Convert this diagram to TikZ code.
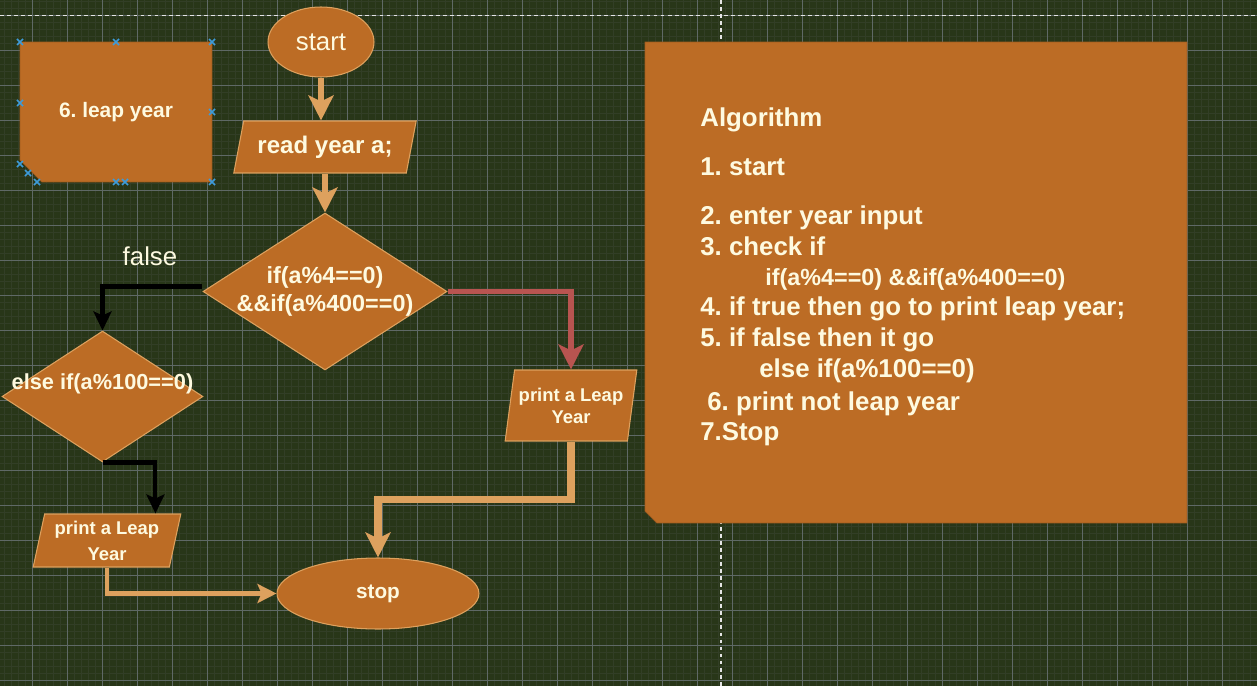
\documentclass[tikz,border=0pt]{standalone}
\usepackage{fontspec}
\setmainfont{Liberation Sans}
\usepackage{xcolor}
\usepackage{tikz}
\usetikzlibrary{positioning, shapes.geometric, shapes.misc, arrows.meta}
\frenchspacing

\definecolor{moss}{HTML}{283618}
\definecolor{rust}{HTML}{BC6C25}
\definecolor{sand}{HTML}{DDA15E}
\definecolor{cream}{HTML}{FEFAE0}
\definecolor{brick}{HTML}{B85450}
\definecolor{gridminor}{HTML}{323E26}
\definecolor{gridmajor}{HTML}{5F6966}
\definecolor{handle}{HTML}{3D9BD9}

\begin{document}
\begin{tikzpicture}[x=0.02cm, y=-0.02cm,
  minorline/.style={gridminor, line width=0.5pt},
  majorline/.style={gridmajor, line width=0.55pt},
  pageline/.style={draw=white!80!gray, line width=0.7pt, dash pattern=on 2.2pt off 1.8pt},
  box/.style={draw=sand, line width=0.6pt, fill=rust, text=cream, font=\bfseries},
  terminal/.style={box, ellipse, inner sep=0pt},
  io/.style={box, trapezium, trapezium stretches=true, inner sep=1pt},
  decision/.style={box, diamond, inner sep=0pt},
  lbl/.style={text=cream, align=center, inner sep=0pt},
  card/.style={chamfered rectangle, chamfered rectangle corners=south west,
    chamfered rectangle xsep=0.38cm, fill=rust, draw=rust!85!black, line width=0.4pt,
    text=cream, font=\bfseries},
  algoline/.style={text=cream, inner sep=0pt, anchor=base west},
  flow/.style={draw=sand, line width=3.4pt, -{Stealth[length=0.5cm, width=0.5cm, inset=0.12cm]}},
  thinflow/.style={draw=sand, line width=2.8pt, -{Stealth[length=0.38cm, width=0.38cm, inset=0.08cm]}},
  yesflow/.style={draw=brick, line width=3.4pt, -{Stealth[length=0.5cm, width=0.5cm, inset=0.12cm]}},
  noflow/.style={draw=black, line width=2.3pt, -{Stealth[length=0.38cm, width=0.36cm, inset=0.08cm]}},
  handlemark/.style={handle, line width=0.9pt}]

  \useasboundingbox (0,0) rectangle (1257,686);
  \fill[moss] (0,0) rectangle (1257,686);
  \foreach \gx in {4.3,11.3,...,1257} \draw[minorline] (\gx,0) -- (\gx,686);
  \foreach \gy in {1.3,8.3,...,686} \draw[minorline] (0,\gy) -- (1257,\gy);
  \foreach \gx in {32.3,67.3,...,1257} \draw[majorline] (\gx,0) -- (\gx,686);
  \foreach \gy in {15.3,50.3,...,686} \draw[majorline] (0,\gy) -- (1257,\gy);
  \draw[pageline] (0,15.3) -- (1257,15.3);
  \draw[pageline] (721,0) -- (721,686);

  \node (note) [card, minimum width=3.84cm, minimum height=2.8cm,
    font=\bfseries\fontsize{11.9}{14}\selectfont] at (116,112) {6. leap year};
  \foreach \hx/\hy in {20/42, 116/42, 212/42, 20/103, 212/112, 20/164, 28/173, 37/182, 116/182, 125/182, 212/182}
    \draw[handlemark] (\hx-3,\hy-3) -- (\hx+3,\hy+3) (\hx-3,\hy+3) -- (\hx+3,\hy-3);

  \node (algo) [card, minimum width=10.84cm, minimum height=9.62cm] at (916,282.5) {};
  \foreach \ly/\lx/\lsz/\ltxt [count=\li] in {126.7/700/14.7/{Algorithm},
      175.7/700/14.7/{1. start}, 224/700/14.7/{2. enter year input},
      255/700/14.7/{3. check if}, 285/765/13.3/{if(a\%4==0) \&\&if(a\%400==0)},
      315/700/14.7/{4. if true then go to print leap year;},
      346.7/700/14.7/{5. if false then it go}, 377.7/759/14.7/{else if(a\%100==0)},
      410/707/14.7/{6. print not leap year}, 440/700/14.7/{7.Stop}}
    \node (algo\li) [algoline, font=\bfseries\fontsize{\lsz}{\lsz}\selectfont] at (\lx,\ly) {\ltxt};

  \node (start) [terminal, minimum width=2.12cm, minimum height=1.4cm,
    font=\fontsize{14.7}{17}\selectfont] at (321,42) {start};
  \node (read) [io, trapezium left angle=72, trapezium right angle=108,
    minimum width=3.68cm, minimum height=1.04cm,
    font=\bfseries\fontsize{13.7}{16}\selectfont] at (325,147) {read year a;};
  \node (cond1) [decision, minimum width=4.88cm, minimum height=3.14cm,
    label={[lbl, font=\bfseries\fontsize{13.3}{16.4}\selectfont]center:if(a\%4==0)\\\&\&if(a\%400==0)}]
    at (325,291.5) {};
  \node (cond2) [decision, minimum width=4.02cm, minimum height=2.62cm,
    label={[lbl, yshift=0.26cm, font=\bfseries\fontsize{12.4}{15}\selectfont]center:else if(a\%100==0)}]
    at (102.5,396.5) {};
  \node (falselbl) [text=cream, font=\fontsize{14.7}{17}\selectfont] at (150,256) {false};
  \node (print2) [io, trapezium left angle=77, trapezium right angle=103,
    minimum width=2.64cm, minimum height=1.42cm, align=center,
    font=\bfseries\fontsize{10.5}{12.5}\selectfont] at (571,405.5) {print a Leap\\Year};
  \node (print1) [io, trapezium left angle=77, trapezium right angle=103,
    minimum width=2.96cm, minimum height=1.06cm, align=center,
    font=\bfseries\fontsize{10.5}{14.7}\selectfont] at (107,540.5) {print a Leap\\Year};
  \node (stop) [terminal, minimum width=4.04cm, minimum height=1.42cm,
    font=\bfseries\fontsize{11.8}{14}\selectfont] at (378,593.5) {stop};

  \draw[flow] (start.south) -- (start.south |- read.north);
  \draw[flow] (cond1.north |- read.south) -- (cond1.north);
  \draw[noflow] ([yshift=0.1cm]cond1.west) -| (cond2.north);
  \draw[yesflow] (cond1.east) -| (print2.center |- print2.north);
  \draw[noflow] (cond2.south) -| ([xshift=-0.52cm]print1.top right corner);
  \draw[thinflow] (print1.center |- print1.south) |- (stop.west);
  \draw[flow, line width=4pt] (print2.center |- print2.south) -- ++(0,58) -| (stop.north);
\end{tikzpicture}
\end{document}
